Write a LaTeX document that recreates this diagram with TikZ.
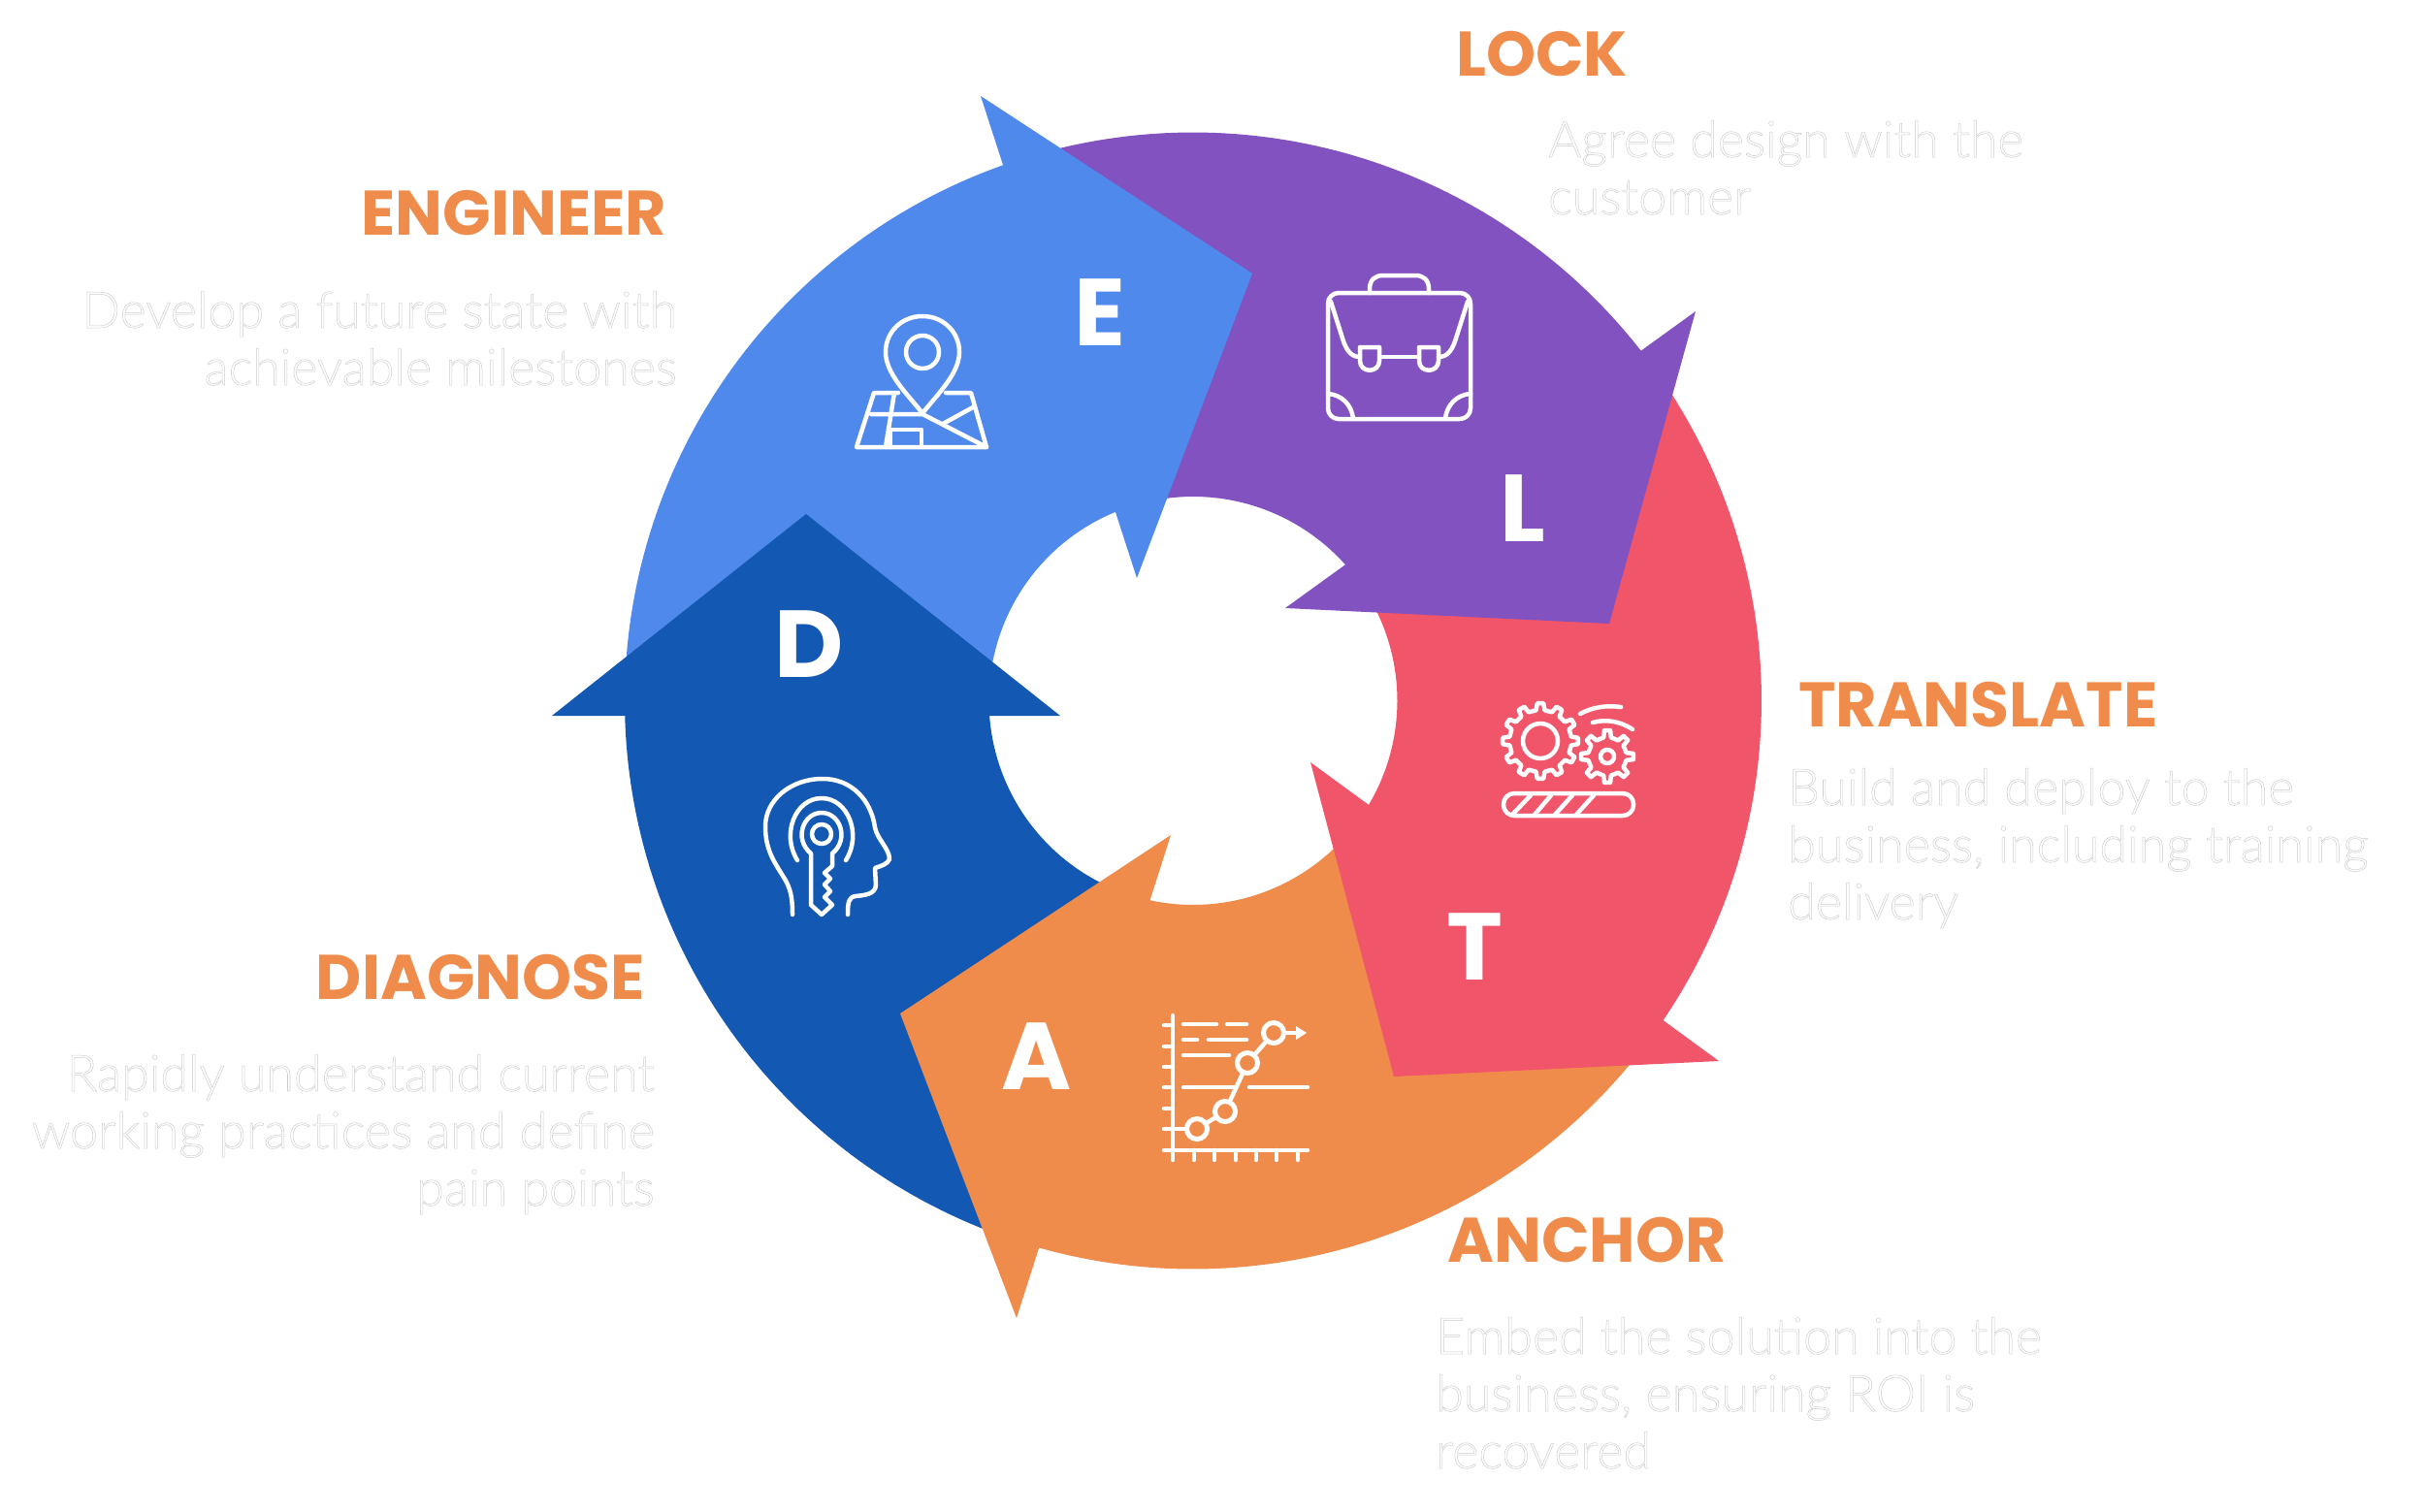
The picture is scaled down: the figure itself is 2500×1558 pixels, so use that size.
\documentclass[tikz,border=0pt]{standalone}
\usepackage{fontspec}
\setmainfont{Poppins}
\newfontfamily\bodyfont{Lato Light}
\definecolor{cE}{RGB}{79,137,235}
\definecolor{cL}{RGB}{131,82,193}
\definecolor{cT}{RGB}{240,85,106}
\definecolor{cA}{RGB}{240,140,75}
\definecolor{cD}{RGB}{19,88,178}
\newcommand{\ringseg}[3]{\fill[#1] plot[domain=#2:#3,samples=70] ({1230+586*cos(\x)},{722.5-586*sin(\x)}) -- plot[domain=#3:#2,samples=40] ({1230+210.5*cos(\x)},{722.5-210.5*sin(\x)}) -- cycle;}
\newcommand{\outl}[1]{\special{pdf:code 1 Tr 0.8 G 0.5 w}#1\special{pdf:code 0 Tr 0 G}}
\newcommand{\gearpath}[6]{\draw[icon,shift={(#1,#2)}] (-#6:#4) \foreach \i in {0,...,#5}{ -- ({\i*360/(#5+1)-#6}:#4) -- ({\i*360/(#5+1)-0.6*#6}:#3) -- ({\i*360/(#5+1)+0.6*#6}:#3) -- ({\i*360/(#5+1)+#6}:#4) } -- cycle;}
\tikzset{
  x=1pt,y=-1pt,
  icon/.style={draw=white,line width=4.5pt,line cap=round,line join=round},
  capletter/.style={text=white,font=\fontsize{98}{98}\selectfont\bfseries,inner sep=0pt},
  title/.style={text=cA,font=\fontsize{65}{65}\selectfont\bfseries,inner sep=0pt},
  bodytext/.style={font=\fontsize{52}{59}\selectfont\bodyfont,inner sep=0pt},
  dot/.style={circle,draw=white,line width=5pt,minimum size=21pt,inner sep=0pt}
}
\begin{document}
\begin{tikzpicture}
\useasboundingbox (0,0) rectangle (2500,1558);
% ring
\ringseg{cE}{178}{105}
\ringseg{cL}{105}{35}
\ringseg{cT}{35}{-37}
\ringseg{cA}{-37}{-110}
\ringseg{cD}{-110}{-182}
% heads
\fill[cE] (1011,99) -- (1291,282) -- (1172,596) -- cycle;
\fill[cL] (1748,321) -- (1659,643) -- (1325,627) -- cycle;
\fill[cT] (1772,1094) -- (1437,1110) -- (1351,786) -- cycle;
\fill[cA] (1207,861) -- (928,1045) -- (1048,1359) -- cycle;
\fill[cD] (569,738) -- (831,530) -- (1093,738) -- cycle;
% letters
\node[capletter] (letE) at (1134,322) {E};
\node[capletter] (letL) at (1570,524) {L};
\node[capletter] (letT) at (1520,976) {T};
\node[capletter] (letA) at (1069,1089) {A};
\node[capletter] (letD) at (834,664) {D};
% briefcase
\draw[icon,rounded corners=11pt] (1369,302) rectangle (1516,432);
\draw[icon] (1412,302) -- (1412,298) .. controls (1412,288) and (1418,284) .. (1426,284) -- (1459,284) .. controls (1467,284) and (1473,288) .. (1473,298) -- (1473,302);
\draw[icon] (1372,311) -- (1385,352) .. controls (1389,363) and (1394,368) .. (1402,368);
\draw[icon] (1513,311) -- (1500,352) .. controls (1496,363) and (1491,368) .. (1483,368);
\draw[icon] (1422,368) -- (1463,368);
\draw[icon] (1402,358) -- (1422,358) -- (1422,372) .. controls (1422,385) and (1402,385) .. (1402,372) -- cycle;
\draw[icon] (1463,358) -- (1483,358) -- (1483,372) .. controls (1483,385) and (1463,385) .. (1463,372) -- cycle;
\draw[icon] (1369,406) .. controls (1383,407) and (1393,417) .. (1395,431);
\draw[icon] (1516,406) .. controls (1502,407) and (1492,417) .. (1490,431);
% gears
\gearpath{1588}{764}{39}{32}{11}{8}
\draw[icon] (1588,764) circle[radius=18];
\gearpath{1657}{780}{27}{20}{7}{11}
\draw[icon] (1657,780) circle[radius=7];
\draw[icon] (1629,736) .. controls (1642,729) and (1656,727) .. (1671,729);
\draw[icon] (1642,745) .. controls (1656,741) and (1671,744) .. (1683,752);
\draw[icon,rounded corners=11pt] (1550,818) rectangle (1684,841);
\draw[icon] (1559,840) -- (1578,820) (1582,840) -- (1599,820) (1603,840) -- (1621,820) (1625,840) -- (1643,820);
% pin and map
\draw[icon] (951,426) .. controls (935,406) and (913,385) .. (913,363) .. controls (913,342) and (930,326) .. (951,326) .. controls (972,326) and (989,342) .. (989,363) .. controls (989,385) and (967,406) .. (951,426);
\draw[icon] (951,363) circle[radius=17];
\draw[icon] (926,405) -- (901,405) -- (883,461) -- (1017,461) -- (1001,405) -- (975,405);
\draw[icon] (922,405) -- (913,461);
\draw[icon] (898,427) -- (951,427) -- (1017,461);
\draw[icon] (972,437) -- (1003,420);
\draw[icon] (918,461) -- (918,443) -- (950,443) -- (950,461);
% head with key
\draw[icon] (817,943) .. controls (817,925) and (815,915) .. (807,903) .. controls (797,887) and (789,875) .. (789,852) .. controls (789,825) and (815,803) .. (848,803) .. controls (878,803) and (898,825) .. (902,853) .. controls (904,865) and (917,875) .. (917,886) .. controls (915,891) and (908,893) .. (902,895) -- (903,913) .. controls (902,922) and (892,923) .. (882,924) .. controls (875,925) and (874,930) .. (874,943);
\draw[icon] (822,887) .. controls (805,860) and (820,823) .. (847,823) .. controls (874,823) and (889,860) .. (872,887);
\draw[icon] (836,933) -- (836,880) .. controls (818,865) and (828,838) .. (847,838) .. controls (866,838) and (876,865) .. (858,880) -- (858,893) -- (850,900) -- (856,906) -- (850,912) -- (856,919) -- (850,925) -- (858,933) -- (847,943) -- cycle;
\draw[icon] (847,860) circle[radius=10];
% chart
\draw[icon] (1209,1047) -- (1209,1196);
\draw[icon] (1200,1186) -- (1348,1186);
\foreach \yy in {1057,1079,1100,1121,1143,1164} \draw[icon] (1200,\yy) -- (1209,\yy);
\foreach \xx in {1231,1252,1274,1295,1316,1338} \draw[icon] (\xx,1186) -- (\xx,1196);
\draw[icon] (1220,1056) -- (1254,1056) (1265,1056) -- (1285,1056) (1220,1072) -- (1234,1072) (1246,1072) -- (1285,1072) (1220,1088) -- (1267,1088) (1220,1121) -- (1272,1121) (1288,1121) -- (1348,1121);
\node[dot] (p1) at (1234,1164) {};
\node[dot] (p2) at (1263,1146) {};
\node[dot] (p3) at (1286,1096) {};
\node[dot] (p4) at (1313,1065) {};
\coordinate (axis) at (1209,1164);
\coordinate (arrowend) at (1337,1065);
\draw[icon] (axis) -- (p1);
\draw[icon] (p1) -- (p2);
\draw[icon] (p2) -- (p3);
\draw[icon] (p3) -- (p4);
\draw[icon] (p4) -- (arrowend);
\fill[white] (1336,1058) -- (1347,1065) -- (1336,1072) -- cycle;
% titles
\node[title,anchor=west] (tL) at (1501,56) {LOCK};
\node[title,anchor=east] (tE) at (687,220) {ENGINEER};
\node[title,anchor=west] (tT) at (1854,727) {TRANSLATE};
\node[title,anchor=east] (tD) at (665,1008) {DIAGNOSE};
\node[title,anchor=west] (tA) at (1492,1279) {ANCHOR};
% body
\node[bodytext,anchor=base west,align=left] (bL) at (1596,221) {\outl{Agree design with the\\customer}};
\node[bodytext,anchor=base east,align=right] (bE) at (698,397) {\outl{Develop a future state with\\achievable milestones}};
\node[bodytext,anchor=base west,align=left] (bT) at (1843,948) {\outl{Build and deploy to the\\business, including training\\delivery}};
\node[bodytext,anchor=base east,align=right] (bD) at (675,1243) {\outl{Rapidly understand current\\working practices and define\\pain points}};
\node[bodytext,anchor=base west,align=left] (bA) at (1480,1514) {\outl{Embed the solution into the\\business, ensuring ROI is\\recovered}};
\end{tikzpicture}
\end{document}
